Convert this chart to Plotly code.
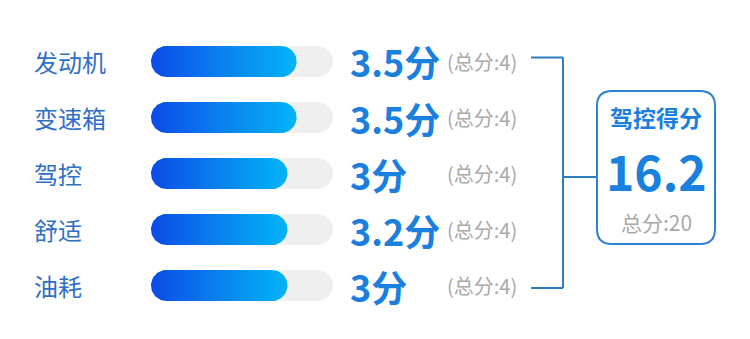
import numpy as np
import plotly.graph_objects as go

# ---------------- data ----------------
categories = ["发动机", "变速箱", "驾控", "舒适", "油耗"]
scores = [3.5, 3.5, 3, 3.2, 3]
score_labels = ["3.5分", "3.5分", "3分", "3.2分", "3分"]
bar_lengths = [3.2, 3.2, 3.0, 3.0, 3.0]   # filled length as drawn in the picture
max_score = 4
total_label = "(总分:4)"
summary_title = "驾控得分"
summary_value = "16.2"
summary_total = "总分:20"

# ---------------- layout helpers ----------------
W, H = 750, 339
px_per_unit = 45.5          # x-axis: score units
x0_px = 151                 # pixel where score 0 sits
row0_px, row_step = 61.5, 56.0
x_range = [-x0_px / px_per_unit, (W - x0_px) / px_per_unit]
y_range = [(H - row0_px) / row_step, -row0_px / row_step]

rx = 15.5 / px_per_unit
ry = 15.5 / row_step

FONT = "Noto Sans CJK SC"
BLUE_LABEL = "#2f6fc6"
BLUE_VAL = "#1a80de"
GRAY = "#a9a9a9"
LINE = "#2f7bbf"


def pill(xs, xe, yc):
    t1 = np.linspace(-np.pi / 2, np.pi / 2, 30)
    t2 = np.linspace(np.pi / 2, 3 * np.pi / 2, 30)
    x = np.concatenate([xe - rx + rx * np.cos(t1), xs + rx + rx * np.cos(t2)])
    y = np.concatenate([yc + ry * np.sin(t1), yc + ry * np.sin(t2)])
    return np.append(x, x[0]), np.append(y, y[0])


fig = go.Figure()

for i, (cat, blen) in enumerate(zip(categories, bar_lengths)):
    tx, ty = pill(0, max_score, i)
    fig.add_trace(go.Scatter(x=tx, y=ty, fill="toself", fillcolor="#efefef",
                             mode="lines", line=dict(width=0, color="#efefef"),
                             hoverinfo="skip", showlegend=False))
    fx, fy = pill(0, blen, i)
    fig.add_trace(go.Scatter(x=fx, y=fy, fill="toself", mode="lines",
                             line=dict(width=0, color="#0a4de6"),
                             fillgradient=dict(type="horizontal",
                                               colorscale=[[0, "#0a4be6"], [0.5, "#0a82ee"], [1, "#03b4f6"]]),
                             name=cat, hoverinfo="skip", showlegend=False))

annotations = []
for i, (cat, lab) in enumerate(zip(categories, score_labels)):
    yp = 1 - (row0_px + i * row_step) / H
    annotations.append(dict(x=32 / W, y=yp, xref="paper", yref="paper", text=cat,
                            xanchor="left", yanchor="middle", showarrow=False,
                            font=dict(family=FONT, size=24, color=BLUE_LABEL)))
    annotations.append(dict(x=348 / W, y=yp, xref="paper", yref="paper", text="<b>%s</b>" % lab,
                            xanchor="left", yanchor="middle", showarrow=False,
                            font=dict(family=FONT, size=36, color=BLUE_VAL)))
    annotations.append(dict(x=445 / W, y=yp, xref="paper", yref="paper", text=total_label,
                            xanchor="left", yanchor="middle", showarrow=False,
                            font=dict(family=FONT, size=20, color=GRAY)))

cx = 656 / W
annotations.append(dict(x=cx, y=1 - 117 / H, xref="paper", yref="paper", text="<b>%s</b>" % summary_title,
                        xanchor="center", yanchor="middle", showarrow=False,
                        font=dict(family=FONT, size=23, color=BLUE_VAL)))
annotations.append(dict(x=cx, y=1 - 170 / H, xref="paper", yref="paper", text="<b>%s</b>" % summary_value,
                        xanchor="center", yanchor="middle", showarrow=False,
                        font=dict(family=FONT, size=48, color=BLUE_VAL)))
annotations.append(dict(x=cx, y=1 - 222 / H, xref="paper", yref="paper", text=summary_total,
                        xanchor="center", yanchor="middle", showarrow=False,
                        font=dict(family=FONT, size=21, color=GRAY)))


def px(x):
    return x / W


def py(y):
    return 1 - y / H


shapes = []
# bracket
for (xa, ya, xb, yb) in [(531, 57.5, 563, 57.5), (563, 57.5, 563, 288), (531, 288, 563, 288), (563, 177, 597, 177)]:
    shapes.append(dict(type="line", xref="paper", yref="paper", x0=px(xa), y0=py(ya), x1=px(xb), y1=py(yb),
                       line=dict(color=LINE, width=2)))

# rounded box
bx0, by0, bx1, by1, r = 597, 91, 715, 244, 15
path = (f"M {px(bx0 + r)},{py(by0)} L {px(bx1 - r)},{py(by0)} Q {px(bx1)},{py(by0)} {px(bx1)},{py(by0 + r)} "
        f"L {px(bx1)},{py(by1 - r)} Q {px(bx1)},{py(by1)} {px(bx1 - r)},{py(by1)} "
        f"L {px(bx0 + r)},{py(by1)} Q {px(bx0)},{py(by1)} {px(bx0)},{py(by1 - r)} "
        f"L {px(bx0)},{py(by0 + r)} Q {px(bx0)},{py(by0)} {px(bx0 + r)},{py(by0)} Z")
shapes.append(dict(type="path", xref="paper", yref="paper", path=path,
                   line=dict(color="#2f80cf", width=2), fillcolor="rgba(0,0,0,0)"))

fig.update_layout(
    width=W, height=H,
    margin=dict(l=0, r=0, t=0, b=0),
    paper_bgcolor="white", plot_bgcolor="white",
    xaxis=dict(range=x_range, visible=False, fixedrange=True),
    yaxis=dict(range=y_range, visible=False, fixedrange=True),
    annotations=annotations, shapes=shapes,
    showlegend=False,
)

fig.write_html("out.html")
